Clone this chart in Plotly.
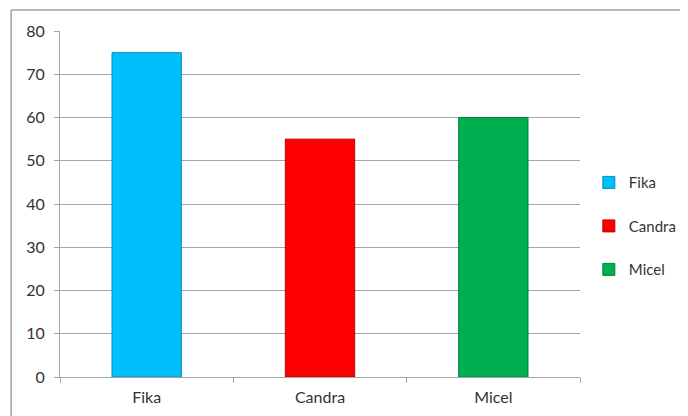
import plotly.graph_objects as go

categories = ["Fika", "Candra", "Micel"]
values = [75, 55, 60]
colors = ["#00BFFA", "#FF0000", "#00B050"]
edge_colors = ["#0090C0", "#C00000", "#008040"]
y_ticks = [0, 10, 20, 30, 40, 50, 60, 70, 80]

fig = go.Figure()
for cat, val, col, ec in zip(categories, values, colors, edge_colors):
    fig.add_trace(go.Bar(
        x=[cat], y=[val], name=cat, legendgroup=cat,
        marker=dict(color=col, line=dict(color=ec, width=1)),
        width=0.4,
    ))

font = "Lato, 'Open Sans', sans-serif"
fig.update_layout(
    width=688, height=416,
    barmode="overlay",
    paper_bgcolor="white", plot_bgcolor="white",
    margin=dict(l=52, r=116, t=23, b=47, autoexpand=False),
    font=dict(family=font, size=16, color="#333333"),
    showlegend=True,
    legend=dict(x=1.017, y=0.436, xanchor="left", yanchor="middle",
                tracegroupgap=21, font=dict(size=15, family=font),
                itemwidth=30, bgcolor="rgba(0,0,0,0)"),
    xaxis=dict(categoryorder="array", categoryarray=categories,
               showline=True, linecolor="#A6A6A6", linewidth=1,
               ticks="outside", tickson="boundaries", ticklen=5,
               tickcolor="#A6A6A6", showgrid=False, fixedrange=True,
               ticklabelstandoff=6, tickfont=dict(size=16)),
    yaxis=dict(range=[0, 80], tickvals=y_ticks, showline=True,
               linecolor="#A6A6A6", linewidth=1, ticks="outside",
               ticklen=5, tickcolor="#A6A6A6", showgrid=True,
               gridcolor="#A6A6A6", gridwidth=1, zeroline=False,
               ticklabelstandoff=6, tickfont=dict(size=16)),
    shapes=[
        dict(type="line", xref="paper", yref="paper", x0=-0.094, x1=1.3,
             y0=1.061, y1=1.061, line=dict(color="#A0A0A0", width=1.5)),
        dict(type="line", xref="paper", yref="paper", x0=-0.094, x1=-0.094,
             y0=1.061, y1=-0.2, line=dict(color="#A0A0A0", width=1.5)),
    ],
)

fig.write_html("out.html")
